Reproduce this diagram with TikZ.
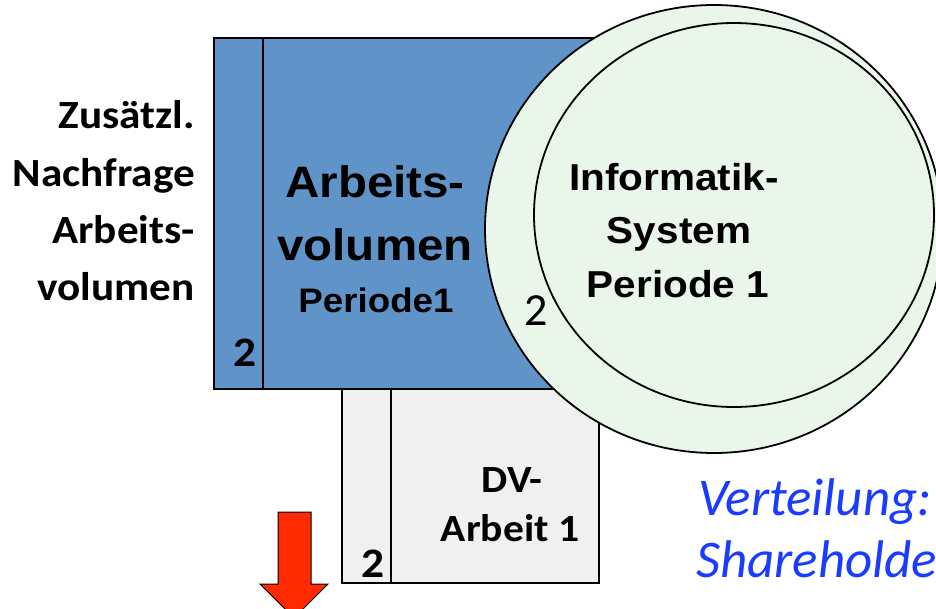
\documentclass[tikz,border=0pt]{standalone}
\usepackage{fontspec}
\newfontfamily\helvwide[FakeStretch=1.08]{Liberation Sans}
\newfontfamily\carlwide[FakeStretch=1.08]{Carlito}
\newfontfamily\carlplain{Carlito}
\definecolor{boxblue}{RGB}{96,148,200}
\definecolor{ringgreen}{RGB}{235,246,235}
\definecolor{boxgray}{RGB}{240,240,240}
\definecolor{arrowred}{RGB}{255,42,0}
\definecolor{noteblue}{RGB}{26,60,255}
\tikzset{
  frame/.style={draw=black, line width=1.8pt},
  sidelab/.style={inner sep=0pt, anchor=base east, font=\carlwide\bfseries\fontsize{40}{40}\selectfont},
  volbig/.style={inner sep=0pt, anchor=base, font=\helvwide\bfseries\fontsize{44}{44}\selectfont},
  volsmall/.style={inner sep=0pt, anchor=base, font=\helvwide\bfseries\fontsize{34}{34}\selectfont},
  systext/.style={inner sep=0pt, anchor=base, font=\helvwide\bfseries\fontsize{37.5}{37.5}\selectfont},
  dvtext/.style={inner sep=0pt, anchor=base, font=\carlwide\bfseries\fontsize{38.5}{38.5}\selectfont},
  count/.style={inner sep=0pt, anchor=base, font=\carlwide\bfseries\fontsize{42}{42}\selectfont},
  countplain/.style={inner sep=0pt, anchor=base, font=\carlplain\fontsize{46}{46}\selectfont},
  note/.style={inner sep=0pt, anchor=base west, text=noteblue, font=\carlplain\itshape\fontsize{53}{53}\selectfont}
}
\begin{document}
\begin{tikzpicture}[x=1pt, y=-1pt]
\useasboundingbox (0,0) rectangle (936,608);

% work volume block with its side column
\draw[frame, fill=boxblue] (214,38) rectangle (620,389);
\draw[frame] (263,38) -- (263,389);

% DP work block
\draw[frame, fill=boxgray] (342,389) rectangle (599,583);
\draw[frame] (391,389) -- (391,583);

% information system rings
\draw[frame, fill=ringgreen] (714,229) ellipse [x radius=229pt, y radius=224pt];
\draw[frame] (734,215) ellipse [x radius=200pt, y radius=192pt];

% downward red arrow
\draw[line width=1pt, fill=arrowred]
  (278,512) -- (311,512) -- (311,584) -- (328,584) -- (294,618)
  -- (260,584) -- (278,584) -- cycle;

% side label
\node[sidelab] (z1) at (195,128) {Zusätzl.};
\node[sidelab] (z2) at (195,186) {Nachfrage};
\node[sidelab] (z3) at (195,243) {Arbeits-};
\node[sidelab] (z4) at (195,300) {volumen};

% work volume text
\node[volbig] (av1) at (375,197) {Arbeits-};
\node[volbig] (av2) at (375,260) {volumen};
\node[volsmall] (av3) at (376,312) {Periode1};

% system text
\node[systext] (is1) at (674,190) {Informatik-};
\node[systext] (is2) at (679,243) {System};
\node[systext] (is3) at (678,297) {Periode 1};

% DP work text
\node[dvtext] (dv1) at (512,492) {DV-};
\node[dvtext] (dv2) at (510,541) {Arbeit 1};

% counts
\node[count] (n1) at (245,366) {2};
\node[count] (n2) at (373,577) {2};
\node[countplain] (n3) at (536,325) {2};

% note
\node[note] (v1) at (698,515) {Verteilung:};
\node[note] (v2) at (696,577) {Shareholde};
\end{tikzpicture}
\end{document}
